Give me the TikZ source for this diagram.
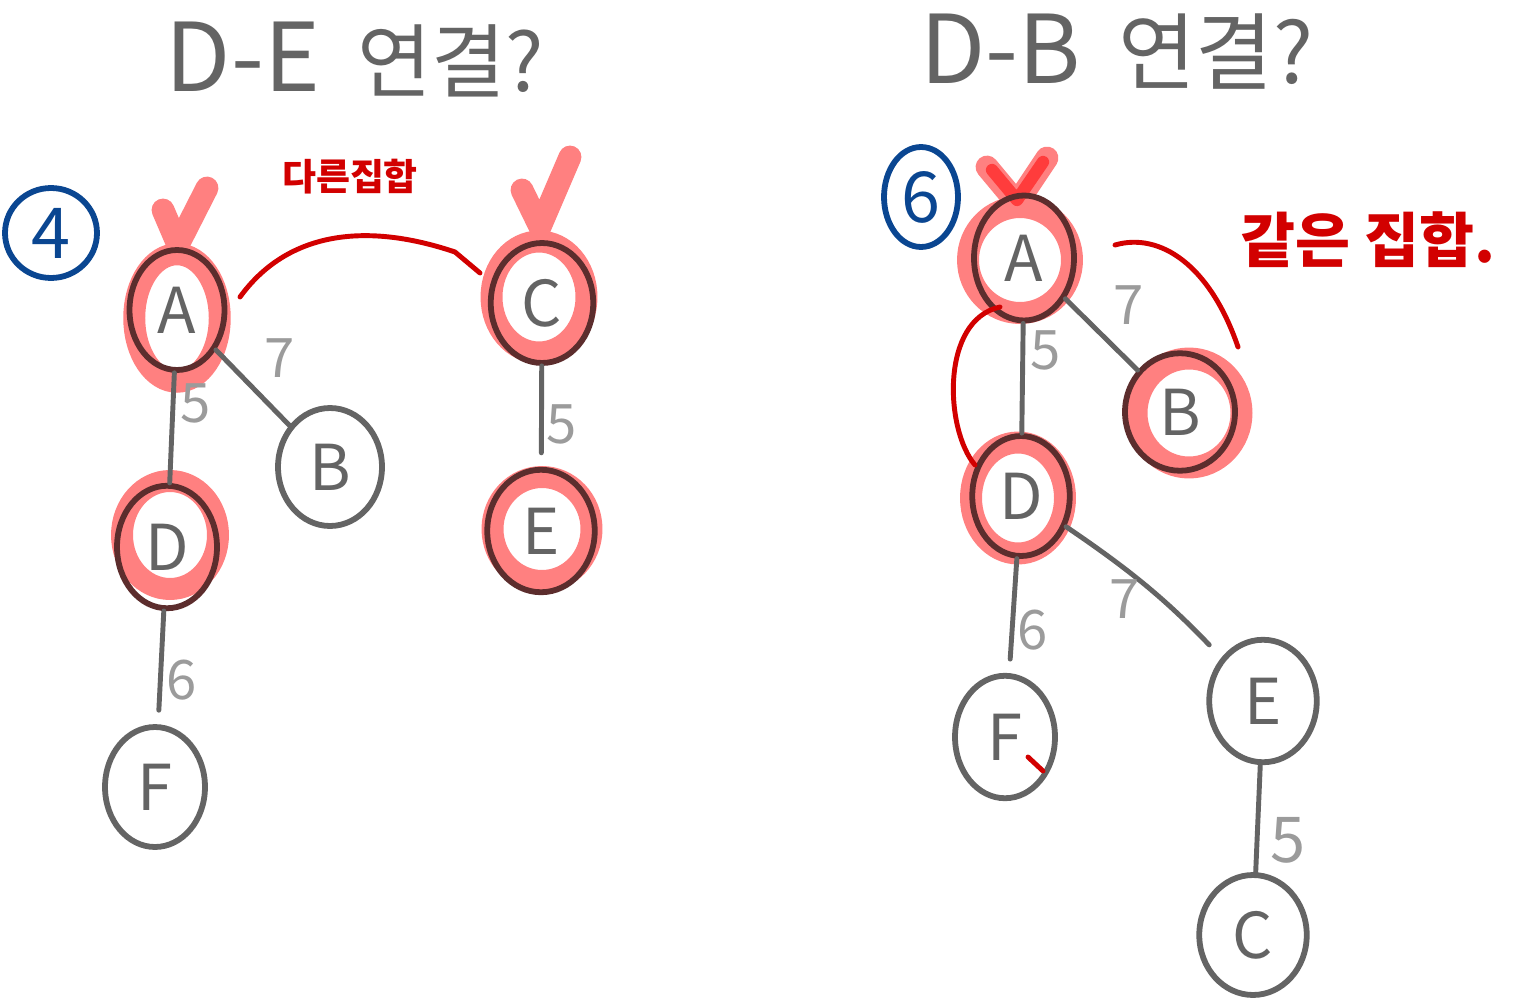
\documentclass[tikz,border=0pt]{standalone}
\usepackage{fontspec}
\setmainfont{Noto Sans CJK KR}
\usetikzlibrary{shapes.geometric}
\definecolor{gcol}{RGB}{100,100,100}
\definecolor{dcol}{RGB}{92,45,45}
\definecolor{pcol}{RGB}{255,128,128}
\definecolor{wcol}{RGB}{155,155,155}
\definecolor{rcol}{RGB}{210,0,0}
\definecolor{bcol}{RGB}{10,70,145}
\definecolor{ckcol}{RGB}{255,60,60}
\begin{document}
\begin{tikzpicture}[x=0.02cm,y=-0.02cm,
  vtx/.style={ellipse, draw=gcol, line width=3.3pt, inner sep=0pt, text=gcol,
    font=\fontsize{36}{38}\selectfont},
  vtxhl/.style={vtx, draw=dcol},
  ring/.style={ellipse, draw=pcol, line width=12.5pt, inner sep=0pt},
  edge/.style={draw=gcol, line width=2.8pt, line cap=round},
  wt/.style={text=wcol, font=\fontsize{31}{33}\selectfont},
  redline/.style={draw=rcol, line width=2.8pt, line cap=round},
  chk/.style={draw=pcol, line width=13pt, line cap=round, line join=round},
  title/.style={text=gcol, font=\fontsize{54}{56}\selectfont},
  rtext/.style={text=rcol},
  cnum/.style={ellipse, draw=bcol, line width=3.3pt, inner sep=0pt, text=bcol,
    font=\fontsize{40}{42}\selectfont}]
\useasboundingbox (0,0) rectangle (1514,1000);
\fill[white] (0,0) rectangle (1514,1000);

% titles
\node[title] (t1) at (355,60) {D-E\, {\fontsize{46}{48}\selectfont 연결?}};
\node[title] (t2) at (1117,52) {D-B\, {\fontsize{48}{50}\selectfont 연결?}};

% circled step numbers
\node[cnum, minimum width=1.84cm, minimum height=1.8cm] (n4) at (51,233) {4};
\node[cnum, minimum width=1.48cm, minimum height=2.0cm] (n6) at (921,197) {6};

% ---------------- left: highlights ----------------
\node[ring, minimum width=1.71cm, minimum height=2.55cm] (hA1) at (177,318) {};
\node[ring, minimum width=1.92cm, minimum height=2.16cm] (hD1) at (170,535) {};
\node[ring, minimum width=1.9cm, minimum height=2.22cm] (hC1) at (539,297) {};
\node[ring, minimum width=1.98cm, minimum height=2.08cm] (hE1) at (542,529) {};
\draw[chk] (163,210) -- (178,245) -- (207,188);
\draw[chk] (522,190) -- (540,227) -- (570,157);

% ---------------- left: nodes ----------------
\node[vtxhl, minimum width=1.9cm, minimum height=2.4cm] (A1) at (177,310) {A};
\node[vtx, minimum width=2.08cm, minimum height=2.36cm] (B1) at (330,467) {B};
\node[vtxhl, minimum width=2.05cm, minimum height=2.4cm] (C1) at (542,303) {C};
\node[vtxhl, minimum width=2.0cm, minimum height=2.45cm] (D1) at (167,547) {D};
\node[vtxhl, minimum width=2.15cm, minimum height=2.45cm] (E1) at (541,531) {E};
\node[vtx, minimum width=2.0cm, minimum height=2.4cm] (F1) at (155,787) {F};

\draw[edge] (A1) -- (D1);
\draw[edge] (A1) -- (B1);
\draw[edge, shorten >=8pt] (D1) -- (F1);
\draw[edge, shorten >=8pt] (C1) -- (E1);

\node[wt] (w1) at (196,403) {5};
\node[wt] (w2) at (280,358) {7};
\node[wt] (w3) at (182,680) {6};
\node[wt] (w4) at (562,424) {5};

\coordinate (ra1) at (240,297);
\coordinate (ra2) at (480,273);
\draw[redline] (ra1) .. controls (285,235) and (360,220) .. (455,252) -- (ra2);
\node[rtext, font=\fontsize{21}{22}\selectfont\bfseries] (r1) at (350,177) {다른집합};

% ---------------- right: highlights ----------------
\node[ring, minimum width=2.08cm, minimum height=2.12cm] (hA2) at (1020,260) {};
\node[ring, minimum width=2.1cm, minimum height=2.18cm] (hB2) at (1189,413) {};
\node[ring, minimum width=1.88cm, minimum height=2.22cm] (hD2) at (1018,498) {};
\draw[chk] (987,167) -- (1017,203) -- (1047,158);
\draw[draw=ckcol, line width=7pt, line cap=round, line join=round] (992,170) -- (1017,200) -- (1043,162);

% ---------------- right: nodes ----------------
\node[vtxhl, minimum width=2.0cm, minimum height=2.5cm] (A2) at (1024,258) {A};
\node[vtxhl, minimum width=2.2cm, minimum height=2.35cm] (B2) at (1180,412) {B};
\node[vtxhl, minimum width=1.95cm, minimum height=2.4cm] (D2) at (1021,496) {D};
\node[vtx, minimum width=2.0cm, minimum height=2.45cm] (F2) at (1005,737) {F};
\node[vtx, minimum width=2.15cm, minimum height=2.45cm] (E2) at (1263,701) {E};
\node[vtx, minimum width=2.15cm, minimum height=2.4cm] (C2) at (1253,935) {C};

\draw[edge] (A2) -- (D2);
\draw[edge] (A2) -- (B2);
\draw[edge, shorten >=8pt] (D2) -- (F2);
\draw[edge, shorten >=10pt] (D2) to[bend left=6] (E2);
\draw[edge] (E2) -- (C2);

\node[wt] (w5) at (1046,350) {5};
\node[wt] (w6) at (1129,305) {7};
\node[wt] (w7) at (1033,630) {6};
\node[wt] (w8) at (1125,599) {7};
\node[wt, font=\fontsize{36}{38}\selectfont] (w9) at (1288,840) {5};

\coordinate (rb1) at (1115,245);
\coordinate (rb2) at (1238,347);
\draw[redline] (rb1) .. controls (1160,232) and (1210,265) .. (rb2);
\coordinate (rc1) at (1000,307);
\coordinate (rc2) at (975,465);
\draw[redline] (rc1) .. controls (940,320) and (945,430) .. (rc2);
\coordinate (rd1) at (1028,757);
\coordinate (rd2) at (1043,771);
\draw[redline] (rd1) -- (rd2);
\node[rtext, font=\fontsize{34}{36}\selectfont\bfseries] (r2) at (1368,240) {같은 집합.};
\end{tikzpicture}
\end{document}
